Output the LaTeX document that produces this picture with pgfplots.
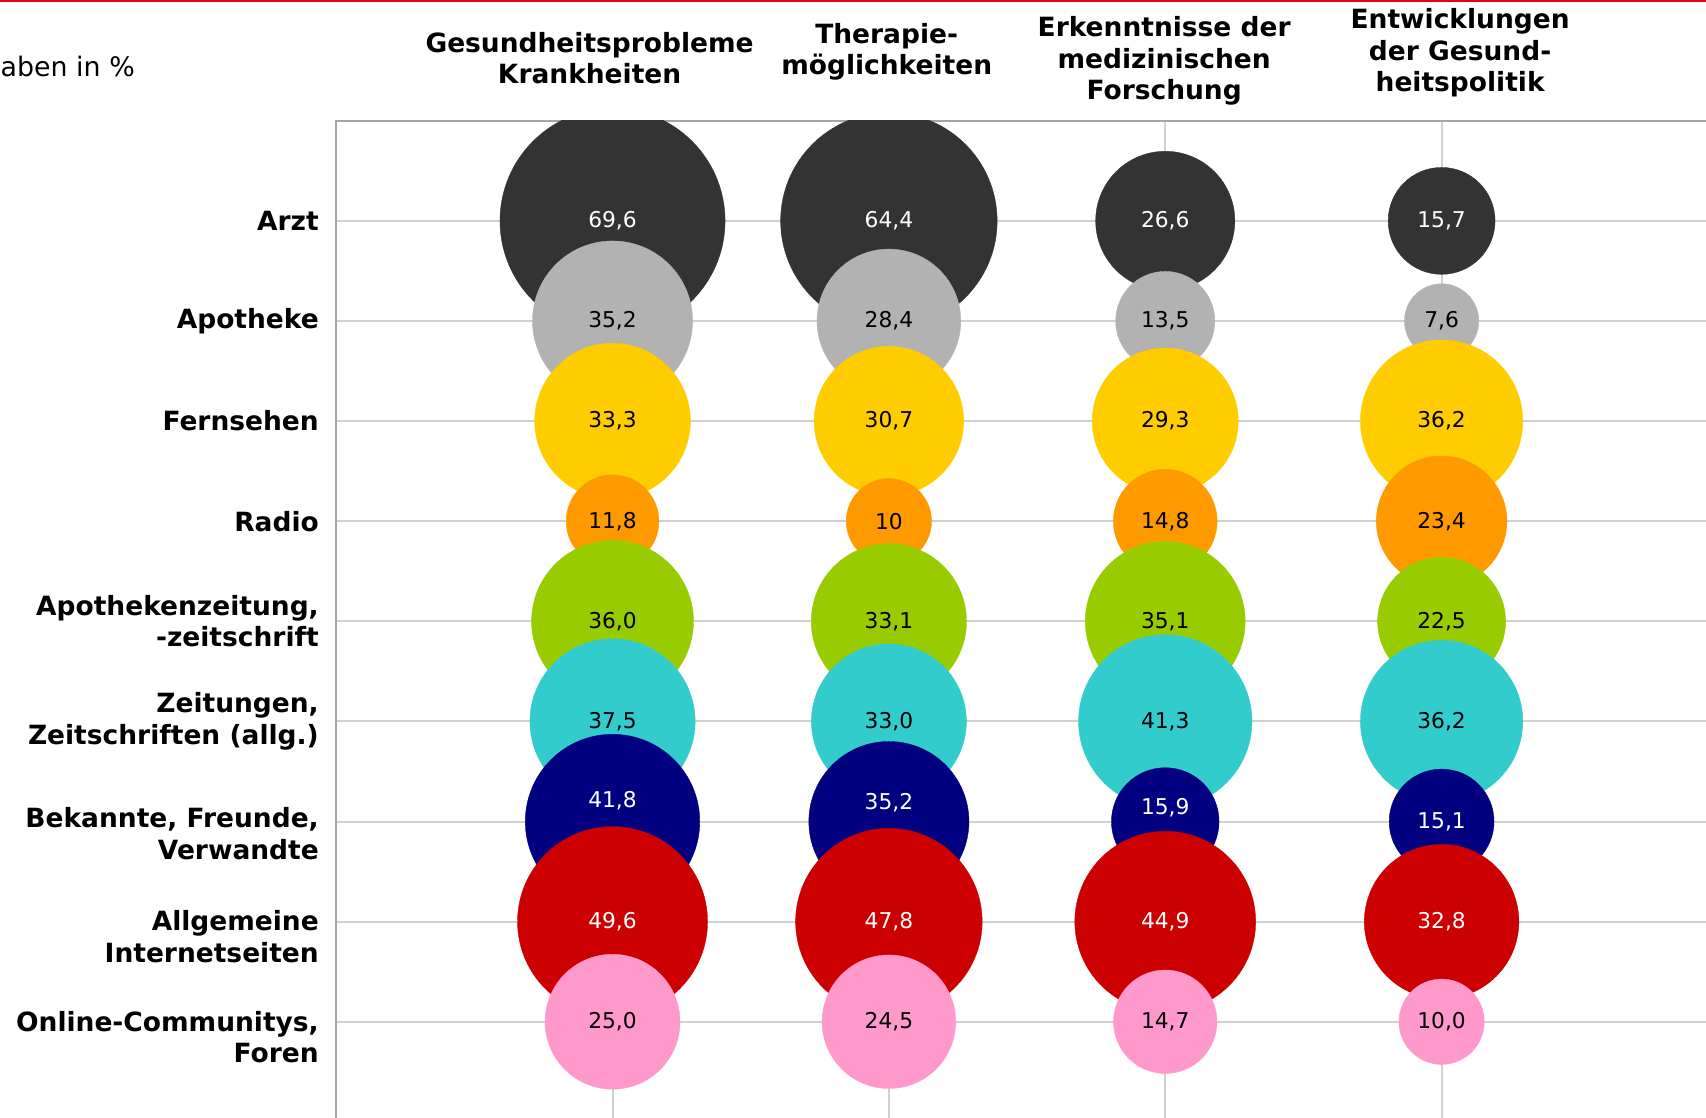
\documentclass[border=0pt]{standalone}
\usepackage{pgfplots}
\pgfplotsset{compat=1.18}
\usepackage{fontspec}
\setmainfont{DejaVu Sans}

\definecolor{cArzt}{HTML}{333333}
\definecolor{cApo}{HTML}{B2B2B2}
\definecolor{cTV}{HTML}{FFCC00}
\definecolor{cRadio}{HTML}{FF9900}
\definecolor{cApoZ}{HTML}{99CC00}
\definecolor{cZeit}{HTML}{33CCCC}
\definecolor{cBek}{HTML}{000080}
\definecolor{cNet}{HTML}{CC0000}
\definecolor{cOnl}{HTML}{FF99CC}
\definecolor{gridgray}{HTML}{D0D0D0}
\definecolor{axisgray}{HTML}{A6A6A6}
\definecolor{topred}{HTML}{E2001A}

\newcommand{\lab}{\fontsize{7.3}{8.7}\selectfont\bfseries}

\pgfplotsset{
  bubble/.style={
    scatter, only marks, mark=*,
    scatter/use mapped color={draw=#1, fill=#1},
    mark options={line width=0.1pt},
    visualization depends on={3.72*sqrt(\thisrow{v}) \as \bubr},
    scatter/@pre marker code/.append style={/tikz/mark size=\bubr},
  },
  vals/.style={
    draw=none, mark=none,
    point meta=explicit symbolic,
    nodes near coords={\pgfplotspointmeta},
    every node near coord/.append style={anchor=center, inner sep=0pt,
      font=\fontsize{6}{7}\selectfont, text=#1},
  },
}

\begin{document}
\begin{tikzpicture}
\begin{axis}[
  name=ax,
  scale only axis,
  width=387pt, height=282pt,
  xmin=0, xmax=5.079,
  ymin=0, ymax=10.217,
  y dir=reverse,
  xtick={1,2,3,4}, xticklabel=\empty,
  ytick={1,...,9},
  yticklabels={{Arzt},{Apotheke},{Fernsehen},{Radio},
    {Apothekenzeitung,\\-zeitschrift},
    {Zeitungen,\\Zeitschriften (allg.)},
    {},{},{}},
  extra y ticks={7.12,8.152,9.152},
  extra y tick labels={
    {Bekannte, Freunde,\\Verwandte},
    {Allgemeine\\Internetseiten},
    {Online-Communitys,\\Foren}},
  extra y tick style={grid=none},
  yticklabel style={align=right, font=\lab, inner sep=0pt, xshift=-4.6pt},
  major tick length=0pt,
  xmajorgrids, ymajorgrids,
  grid style={line width=0.55pt, color=gridgray},
  axis line style={line width=0.55pt, color=axisgray},
  clip mode=individual, clip marker paths=true,
]

% Arzt
\addplot[bubble=cArzt] table {
x y v
1 1 69.6
2 1 64.4
3 1 26.6
4 1 15.7
};
% Apotheke
\addplot[bubble=cApo] table {
x y v
1 2 35.2
2 2 28.4
3 2 13.5
4 2 7.6
};
% Fernsehen
\addplot[bubble=cTV] table {
x y v
1 3 33.3
2 3 30.7
3 3 29.3
4 3 36.2
};
% Radio
\addplot[bubble=cRadio] table {
x y v
1 4 11.8
2 4 10.0
3 4 14.8
4 4 23.4
};
% Apothekenzeitung
\addplot[bubble=cApoZ] table {
x y v
1 5 36.0
2 5 33.1
3 5 35.1
4 5 22.5
};
% Zeitungen
\addplot[bubble=cZeit] table {
x y v
1 6 37.5
2 6 33.0
3 6 41.3
4 6 36.2
};
% Bekannte
\addplot[bubble=cBek] table {
x y v
1 7 41.8
2 7 35.2
3 7 15.9
4 7 15.1
};
% Allgemeine Internetseiten
\addplot[bubble=cNet] table {
x y v
1 8 49.6
2 8 47.8
3 8 44.9
4 8 32.8
};
% Online-Communitys
\addplot[bubble=cOnl] table {
x y v
1 9 25.0
2 9 24.5
3 9 14.7
4 9 10.0
};

% value labels, drawn last so that no bubble covers them
\addplot[vals=white] table[meta=t] {
x y t
1 1 69,6
2 1 64,4
3 1 26,6
4 1 15,7
1 6.79 41,8
2 6.81 35,2
3 6.86 15,9
4 7 15,1
1 8 49,6
2 8 47,8
3 8 44,9
4 8 32,8
};
\addplot[vals=black] table[meta=t] {
x y t
1 2 35,2
2 2 28,4
3 2 13,5
4 2 7,6
1 3 33,3
2 3 30,7
3 3 29,3
4 3 36,2
1 4 11,8
2 4 10
3 4 14,8
4 4 23,4
1 5 36,0
2 5 33,1
3 5 35,1
4 5 22,5
1 6 37,5
2 6 33,0
3 6 41,3
4 6 36,2
1 9 25,0
2 9 24,5
3 9 14,7
4 9 10,0
};

\coordinate (bl) at (axis cs:-1.2165,9.9565);
\coordinate (tr) at (axis cs:4.9567,-1.2065);
\coordinate (tl) at (axis cs:-1.2165,-1.2065);
\coordinate (note) at (axis cs:-1.2165,-0.543);
\coordinate (h1) at (axis cs:0.917,-0.625);
\coordinate (h2) at (axis cs:1.992,-0.69);
\coordinate (h3) at (axis cs:2.996,-0.597);
\coordinate (h4) at (axis cs:4.067,-0.68);
\end{axis}

\node[font=\lab, align=center] at (h1) {Gesundheitsprobleme\\Krankheiten};
\node[font=\lab, align=center] at (h2) {Therapie-\\möglichkeiten};
\node[font=\lab, align=center] at (h3) {Erkenntnisse der\\medizinischen\\Forschung};
\node[font=\lab, align=center] at (h4) {Entwicklungen\\der Gesund-\\heitspolitik};
\node[anchor=west, inner sep=0pt, font=\fontsize{7.4}{9}\selectfont] at (note) {aben in \%};

\pgfresetboundingbox
\path[use as bounding box] (bl) rectangle (tr);
\draw[line width=0.6pt, color=topred] ([yshift=-0.3pt]tl) -- ([yshift=-0.3pt]tr);
\end{tikzpicture}
\end{document}
